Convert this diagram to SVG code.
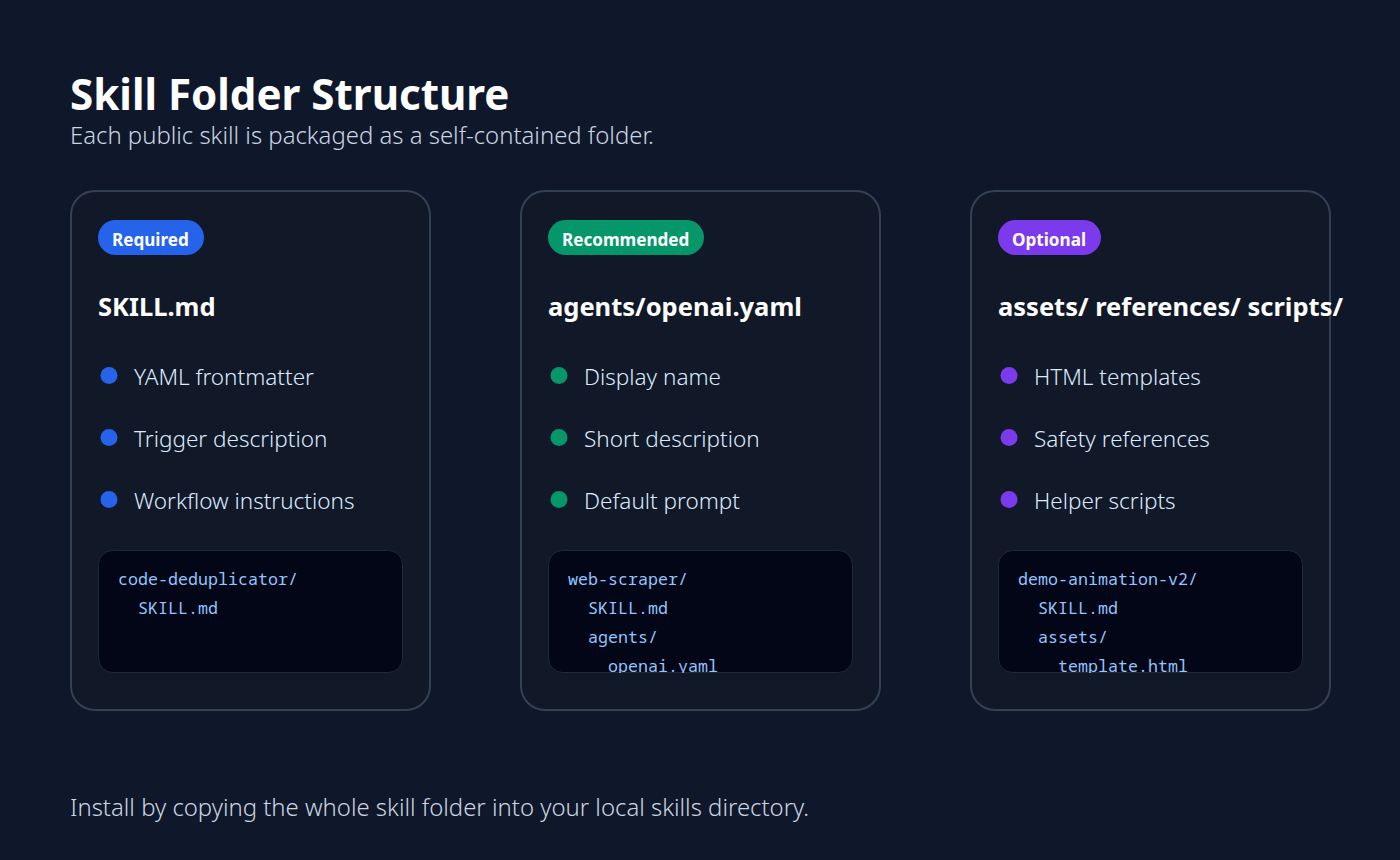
<svg xmlns="http://www.w3.org/2000/svg" width="1400" height="860" viewBox="0 0 1400 860">
<style>
text{font-family:"Noto Sans","Open Sans",sans-serif}
.title{font-size:42.1px;font-weight:700;fill:#fff}
.sub{font-size:23.9px;fill:#cbd5e1;font-weight:300}
.card{fill:#111827;stroke:#334155;stroke-width:2}
.badge{font-size:17.1px;font-weight:700;fill:#fff}
.h{font-size:25.5px;font-weight:700;fill:#fff}
.li{font-size:22.5px;fill:#dbeafe;font-weight:300}
.code{fill:#020617;stroke:#1e293b;stroke-width:1}
.mono{font-family:"Noto Sans Mono","DejaVu Sans Mono",monospace;font-size:16.67px;fill:#93c5fd}
</style>
<defs>
<clipPath id="c1"><rect x="98" y="550" width="305" height="123" rx="14"/></clipPath>
<clipPath id="c2"><rect x="548" y="550" width="305" height="123" rx="14"/></clipPath>
<clipPath id="c3"><rect x="998" y="550" width="305" height="123" rx="14"/></clipPath>
</defs>
<rect width="1400" height="860" fill="#0f172a"/>
<text class="title" x="70" y="110">Skill Folder Structure</text>
<text class="sub" x="70" y="144">Each public skill is packaged as a self-contained folder.</text>
<g id="card-required">
<rect class="card" x="71" y="191" width="359" height="519" rx="24"/>
<rect x="98" y="220" width="106" height="35" rx="17.5" fill="#2563eb"/>
<text class="badge" x="112" y="245.500">Required</text>
<text class="h" x="98" y="316">SKILL.md</text>
<circle cx="109" cy="375.500" r="8.5" fill="#2563eb"/><text class="li" x="134" y="385">YAML frontmatter</text>
<circle cx="109" cy="437.500" r="8.5" fill="#2563eb"/><text class="li" x="134" y="447">Trigger description</text>
<circle cx="109" cy="499.500" r="8.5" fill="#2563eb"/><text class="li" x="134" y="509">Workflow instructions</text>
<rect class="code" x="98.500" y="550.500" width="304" height="122" rx="14"/>
<g clip-path="url(#c1)">
<text class="mono" x="118" y="585">code-deduplicator/</text>
<text class="mono" x="138" y="614">SKILL.md</text>
</g>
</g>
<g id="card-recommended">
<rect class="card" x="521" y="191" width="359" height="519" rx="24"/>
<rect x="548" y="220" width="156" height="35" rx="17.5" fill="#059669"/>
<text class="badge" x="562" y="245.500">Recommended</text>
<text class="h" x="548" y="316">agents/openai.yaml</text>
<circle cx="559" cy="375.500" r="8.5" fill="#059669"/><text class="li" x="584" y="385">Display name</text>
<circle cx="559" cy="437.500" r="8.5" fill="#059669"/><text class="li" x="584" y="447">Short description</text>
<circle cx="559" cy="499.500" r="8.5" fill="#059669"/><text class="li" x="584" y="509">Default prompt</text>
<rect class="code" x="548.500" y="550.500" width="304" height="122" rx="14"/>
<g clip-path="url(#c2)">
<text class="mono" x="568" y="585">web-scraper/</text>
<text class="mono" x="588" y="614">SKILL.md</text>
<text class="mono" x="588" y="643">agents/</text>
<text class="mono" x="608" y="672">openai.yaml</text>
</g>
</g>
<g id="card-optional">
<rect class="card" x="971" y="191" width="359" height="519" rx="24"/>
<rect x="998" y="220" width="103" height="35" rx="17.5" fill="#7c3aed"/>
<text class="badge" x="1012" y="245.500">Optional</text>
<text class="h" x="998" y="316">assets/ references/ scripts/</text>
<circle cx="1009" cy="375.500" r="8.5" fill="#7c3aed"/><text class="li" x="1034" y="385">HTML templates</text>
<circle cx="1009" cy="437.500" r="8.5" fill="#7c3aed"/><text class="li" x="1034" y="447">Safety references</text>
<circle cx="1009" cy="499.500" r="8.5" fill="#7c3aed"/><text class="li" x="1034" y="509">Helper scripts</text>
<rect class="code" x="998.500" y="550.500" width="304" height="122" rx="14"/>
<g clip-path="url(#c3)">
<text class="mono" x="1018" y="585">demo-animation-v2/</text>
<text class="mono" x="1038" y="614">SKILL.md</text>
<text class="mono" x="1038" y="643">assets/</text>
<text class="mono" x="1058" y="672">template.html</text>
</g>
</g>
<text class="sub" x="70" y="816">Install by copying the whole skill folder into your local skills directory.</text>
<g id="connectors"/>
</svg>
